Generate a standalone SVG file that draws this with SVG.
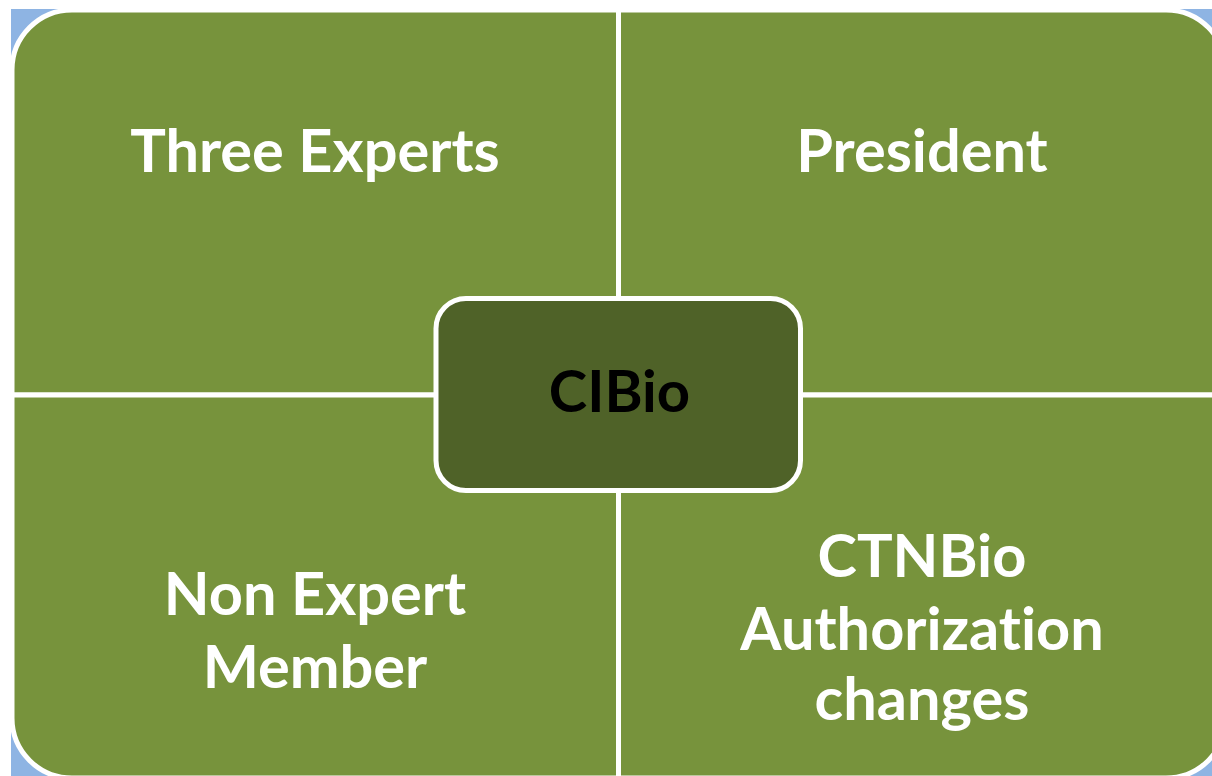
<svg xmlns="http://www.w3.org/2000/svg" width="1212" height="776" viewBox="0 0 1212 776">
  <style>
    .quad { fill: #77933C; stroke: #FFFFFF; stroke-width: 5; }
    .center { fill: #4F6228; stroke: #FFFFFF; stroke-width: 5; }
    .lbl { font-family: Lato, "Open Sans", "Liberation Sans", sans-serif; font-weight: bold; font-size: 59.5px; fill: #FFFFFF; text-anchor: middle; font-variant-ligatures: none; }
    .clbl { font-family: Lato, "Open Sans", "Liberation Sans", sans-serif; font-weight: bold; font-size: 58px; fill: #000000; text-anchor: middle; font-variant-ligatures: none; }
  </style>
  <rect x="0" y="0" width="1212" height="776" fill="#FFFFFF"/>
  <rect x="11" y="9" width="1201" height="767" fill="#8EB4E3"/>
  <g id="three-experts">
    <path class="quad" d="M12,395 L12,70 A60,60 0 0 1 72,10 L618.5,10 L618.5,395 Z"/>
    <text class="lbl" x="315" y="172">Three Experts</text>
  </g>
  <g id="president">
    <path class="quad" d="M618.5,10 L1166,10 A60,60 0 0 1 1226,70 L1226,395 L618.5,395 Z"/>
    <text class="lbl" x="922" y="172">President</text>
  </g>
  <g id="non-expert-member">
    <path class="quad" d="M12,395 L618.5,395 L618.5,778 L72,778 A60,60 0 0 1 12,718 Z"/>
    <text class="lbl" x="315" y="615">Non Expert</text>
    <text class="lbl" x="315" y="688">Member</text>
  </g>
  <g id="ctnbio-authorization-changes">
    <path class="quad" d="M618.5,395 L1226,395 L1226,718 A60,60 0 0 1 1166,778 L618.5,778 Z"/>
    <text class="lbl" x="922" y="577">CTNBio</text>
    <text class="lbl" x="922" y="650">Authorization</text>
    <text class="lbl" x="922" y="720">changes</text>
  </g>
  <g id="connectors"></g>
  <g id="cibio">
    <rect class="center" x="436" y="298.5" width="364.5" height="192" rx="30" ry="30"/>
    <text class="clbl" x="619.5" y="412">CIBio</text>
  </g>
</svg>
